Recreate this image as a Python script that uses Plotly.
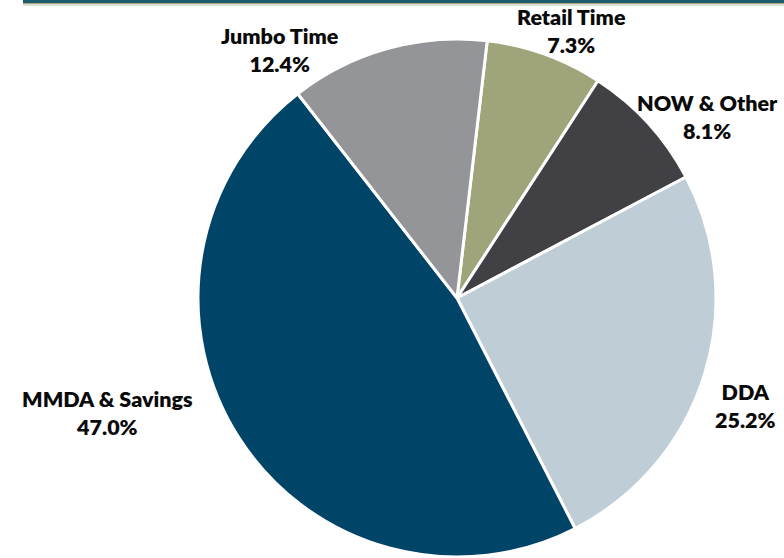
import plotly.graph_objects as go

# Data (clockwise from the top)
categories = ["Retail Time", "NOW & Other", "DDA", "MMDA & Savings", "Jumbo Time"]
shares = [7.3, 8.1, 25.2, 47.0, 12.4]
colors = ["#A0A47A", "#414045", "#BFCDD6", "#004468", "#939598"]

W, H = 784, 558
cx, cy, r = 457, 298, 259

# label centres (pixels) for each category, in the same order
label_pos = [(571, 31), (707, 117), (745, 406), (107, 413), (280, 50)]

fig = go.Figure()
fig.add_trace(go.Pie(
    labels=categories,
    values=shares,
    sort=False,
    direction="clockwise",
    rotation=6.7,
    marker=dict(colors=colors, line=dict(color="white", width=3)),
    textinfo="none",
    hoverinfo="label+percent",
    domain=dict(x=[(cx - r) / W, (cx + r) / W], y=[(H - cy - r) / H, (H - cy + r) / H]),
    showlegend=False,
))

for cat, val, (lx, ly) in zip(categories, shares, label_pos):
    fig.add_annotation(
        x=lx / W, y=1 - ly / H, xref="paper", yref="paper",
        text=f"{cat}<br>{val:.1f}%",
        showarrow=False, xanchor="center", yanchor="middle",
        font=dict(family="Lato", size=21.5, color="#0A0A0A", weight=800),
    )

# top border lines
fig.add_shape(type="rect", xref="paper", yref="paper", x0=23 / W, x1=1, y0=1 - 3 / H, y1=1,
              fillcolor="#1D5B6E", line=dict(width=0))
fig.add_shape(type="rect", xref="paper", yref="paper", x0=23 / W, x1=1, y0=1 - 4 / H, y1=1 - 3 / H,
              fillcolor="#A7A77A", line=dict(width=0))
fig.add_shape(type="rect", xref="paper", yref="paper", x0=23 / W, x1=1, y0=1 - 6 / H, y1=1 - 4 / H,
              fillcolor="#DDE2DC", line=dict(width=0))

fig.update_layout(
    width=W, height=H,
    margin=dict(l=0, r=0, t=0, b=0),
    paper_bgcolor="white", plot_bgcolor="white",
)
fig.write_html("out.html")
